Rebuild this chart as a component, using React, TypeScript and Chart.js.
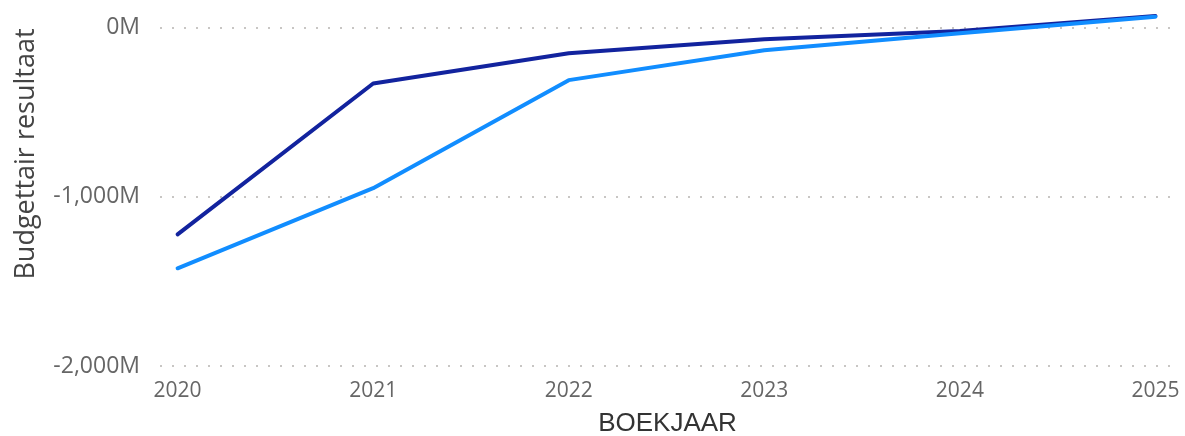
import React, { useEffect, useRef } from "react";
import { Chart, registerables } from "chart.js";

Chart.register(...registerables);

const years = [2020, 2021, 2022, 2023, 2024, 2025];
const seriesDark = [-1221, -329, -150, -67, -18, 71];
const seriesLight = [-1422, -948, -309, -132, -31, 66];
const yTicks = [-2000, -1000, 0];
const yTitle = "Budgettair resultaat";
const xTitle = "BOEKJAAR";

const yTitlePlugin = {
  id: "yTitlePlugin",
  afterDraw(chart: any) {
    const ctx = chart.ctx;
    ctx.save();
    ctx.translate(26, 154);
    ctx.rotate(-Math.PI / 2);
    ctx.font = "27px 'Open Sans', 'Noto Sans', sans-serif";
    ctx.fillStyle = "#444444";
    ctx.textAlign = "center";
    ctx.textBaseline = "middle";
    ctx.fillText(yTitle, 0, 0);
    ctx.restore();
  },
};

export default function App() {
  const ref = useRef<HTMLCanvasElement | null>(null);
  useEffect(() => {
    if (!ref.current) return;
    const chart = new Chart(ref.current, {
      type: "line",
      data: {
        datasets: [
          {
            label: "Light",
            data: years.map((x, i) => ({ x, y: seriesLight[i] })),
            borderColor: "#118DFF",
            borderWidth: 4,
            pointRadius: 0,
            borderCapStyle: "round",
            borderJoinStyle: "round",
            tension: 0,
          },
          {
            label: "Dark",
            data: years.map((x, i) => ({ x, y: seriesDark[i] })),
            borderColor: "#12239E",
            borderWidth: 4,
            pointRadius: 0,
            borderCapStyle: "round",
            borderJoinStyle: "round",
            tension: 0,
          },
        ],
      },
      options: {
        responsive: false,
        animation: false,
        layout: { padding: { top: 11, right: 10, bottom: 0, left: 0 } },
        plugins: { legend: { display: false }, tooltip: { enabled: false } },
        scales: {
          x: {
            type: "linear",
            min: 2019.91,
            max: 2025.1,
            grid: { display: false, drawTicks: false },
            border: { display: false },
            afterFit: (s: any) => {
              s.height = 70;
              s.paddingLeft = 0;
              s.paddingRight = 0;
            },
            ticks: {
              stepSize: 1,
              includeBounds: false,
              padding: 12,
              color: "#666666",
              font: { size: 21, family: "'Open Sans', 'Noto Sans', sans-serif" },
              callback: (v: any) => String(v),
              maxRotation: 0,
            },
            title: {
              display: true,
              text: xTitle,
              color: "#333333",
              padding: { top: 0, bottom: 0 },
              font: { size: 26, lineHeight: 0.9, family: "'Liberation Sans', Arial, sans-serif" },
            },
          },
          y: {
            type: "linear",
            min: -2000,
            max: 100,
            afterFit: (s: any) => {
              s.width = 160;
              s.paddingTop = 0;
              s.paddingBottom = 0;
            },
            afterBuildTicks: (s: any) => {
              s.ticks = yTicks.map((v) => ({ value: v }));
            },
            grid: { color: "#C8C6C4", lineWidth: 2, drawTicks: false },
            border: { display: false, dash: [2, 10] },
            ticks: {
              padding: 20,
              color: "#666666",
              font: { size: 23, family: "'Open Sans', 'Noto Sans', sans-serif" },
              callback: (v: any) => (v === 0 ? "0M" : Number(v).toLocaleString("en-US") + "M"),
            },
          },
        },
      },
      plugins: [yTitlePlugin],
    } as any);
    return () => chart.destroy();
  }, []);
  return (
    <div style={{ position: "fixed", left: 0, top: 0, width: 1185, height: 436, background: "#fff" }}>
      <canvas ref={ref} width={1185} height={436} />
    </div>
  );
}
